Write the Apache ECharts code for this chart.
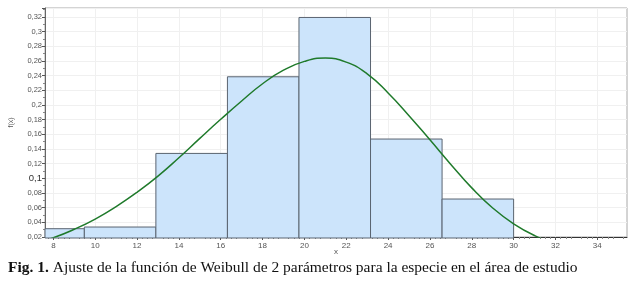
<!DOCTYPE html>
<html><head><meta charset="utf-8">
<script src="https://cdn.jsdelivr.net/npm/echarts@6/dist/echarts.min.js"></script>
<style>html,body{margin:0;padding:0;background:#fff}#c{width:641px;height:287px}</style>
</head><body><div id="c"></div>
<script>
// Histogram bins (class limits) and relative frequencies
var binStart = [6.06, 9.48, 12.90, 16.32, 19.74, 23.16, 26.58];
var binEnd   = [9.48, 12.90, 16.32, 19.74, 23.16, 26.58, 30.00];
var freq     = [0.0313, 0.0336, 0.134, 0.2385, 0.3194, 0.1536, 0.0718];
// Fitted Weibull curve
var curveX = [7, 8, 9, 10, 11, 12, 13, 14, 15, 16, 17, 18, 19, 20, 21, 22, 23, 24, 25, 26, 27, 28, 29, 30, 31, 32, 33, 34, 35, 36];
var curveY = [0.0105, 0.019, 0.0305, 0.0445, 0.0615, 0.081, 0.103, 0.128, 0.1545, 0.1805, 0.2055, 0.229, 0.2475, 0.2595, 0.264, 0.2585, 0.2425, 0.2165, 0.1855, 0.1525, 0.119, 0.087, 0.0595, 0.038, 0.022, 0.011, 0.005, 0.002, 0.001, 0.0005];
var xTicks = [8, 10, 12, 14, 16, 18, 20, 22, 24, 26, 28, 30, 32, 34];
var xMinorTicks = [7.75, 8.25, 8.5, 8.75, 9.25, 9.5, 9.75, 10.25, 10.5, 10.75, 11.25, 11.5, 11.75, 12.25, 12.5, 12.75, 13.25, 13.5, 13.75, 14.25, 14.5, 14.75, 15.25, 15.5, 15.75, 16.25, 16.5, 16.75, 17.25, 17.5, 17.75, 18.25, 18.5, 18.75, 19.25, 19.5, 19.75, 20.25, 20.5, 20.75, 21.25, 21.5, 21.75, 22.25, 22.5, 22.75, 23.25, 23.5, 23.75, 24.25, 24.5, 24.75, 25.25, 25.5, 25.75, 26.25, 26.5, 26.75, 27.25, 27.5, 27.75, 28.25, 28.5, 28.75, 29.25, 29.5, 29.75, 30.25, 30.5, 30.75, 31.25, 31.5, 31.75, 32.25, 32.5, 32.75, 33.25, 33.5, 33.75, 34.25, 34.5, 34.75, 35.25];
var caption = 'Ajuste de la función de Weibull de 2 parámetros para la especie en el área de estudio';

var chart = echarts.init(document.getElementById('c'), null, {renderer: 'canvas'});
var histData = binStart.map(function (s, i) { return [s, binEnd[i], freq[i]]; });
var curveData = curveX.map(function (x, i) { return [x, curveY[i]]; });
var X_MIN = 7.6, X_MAX = 35.42;

chart.setOption({
  animation: false,
  grid: {left: 40, right: 14, top: 8, bottom: 50, show: true, borderColor: '#a8a8a8', borderWidth: 1},
  xAxis: [{
    type: 'value', min: X_MIN, max: X_MAX,
    name: 'x', nameLocation: 'middle', nameGap: 11, nameMoveOverlap: false,
    nameTextStyle: {fontSize: 8, color: '#555', fontFamily: 'Liberation Sans'},
    axisLine: {lineStyle: {color: '#333', width: 1}},
    axisTick: {length: 3, customValues: xTicks, lineStyle: {color: '#555'}},
    axisLabel: {fontSize: 8, color: '#555', fontFamily: 'Liberation Sans', margin: 5, customValues: xTicks},
    splitLine: {show: false}
  }, {
    type: 'value', min: X_MIN, max: X_MAX, position: 'bottom',
    axisLine: {show: false},
    axisTick: {show: true, length: 2, customValues: xMinorTicks, lineStyle: {color: '#888'}},
    axisLabel: {show: false},
    splitLine: {show: false}
  }],
  yAxis: {
    type: 'value', min: 0.02, max: 0.3323, interval: 0.02,
    name: 'f(x)', nameLocation: 'middle', nameGap: 30, nameRotate: 90,
    nameTextStyle: {fontSize: 7, color: '#555', fontFamily: 'Liberation Sans'},
    axisLine: {show: true, lineStyle: {color: '#666', width: 1}},
    axisTick: {show: true, length: 3, lineStyle: {color: '#555'}},
    minorTick: {show: true, splitNumber: 2, length: 2, lineStyle: {color: '#888'}},
    axisLabel: {fontSize: 7.5, color: '#555', fontFamily: 'Liberation Sans', margin: 3, showMaxLabel: false,
      formatter: function (v) {
        var s = String(Math.round(v * 100) / 100).replace('.', ',');
        return s === '0,1' ? '{b|' + s + '}' : s;
      },
      rich: {b: {fontSize: 9.5, color: '#333', fontFamily: 'Liberation Sans'}}
    },
    splitLine: {show: true, lineStyle: {color: '#f0f0f0'}}
  },
  series: [
    {
      type: 'line', data: [], xAxisIndex: 0, z: 0,
      markLine: {
        silent: true, symbol: 'none', label: {show: false}, z: 0,
        lineStyle: {color: '#f0f0f0', type: 'solid', width: 1},
        data: xTicks.map(function (t) { return {xAxis: t}; })
      }
    },
    {
      type: 'custom',
      data: histData,
      encode: {x: [0, 1], y: 2},
      renderItem: function (params, api) {
        var p0 = api.coord([api.value(0), api.value(2)]);
        var p1 = api.coord([api.value(1), 0]);
        var rect = echarts.graphic.clipRectByRect(
          {x: p0[0], y: p0[1], width: p1[0] - p0[0], height: p1[1] - p0[1]},
          {x: params.coordSys.x, y: params.coordSys.y, width: params.coordSys.width, height: params.coordSys.height + 1}
        );
        if (!rect) return;
        return {type: 'rect', shape: rect,
          style: {fill: '#cce4fb', stroke: '#5a6470', lineWidth: 1}};
      },
      z: 2
    },
    {
      type: 'line', data: curveData, smooth: true, showSymbol: false, clip: true,
      lineStyle: {color: '#1f7a2b', width: 1.5}, z: 3
    }
  ],
  graphic: [{
    type: 'text', left: 8, top: 260,
    style: {
      text: '{b|Fig. 1.} ' + caption,
      font: '15.5px "Liberation Serif"', fill: '#111',
      rich: {b: {fontFamily: 'Liberation Serif', fontSize: 15.5, fontWeight: 'bold', fill: '#111'}}
    }
  }]
});
</script></body></html>
